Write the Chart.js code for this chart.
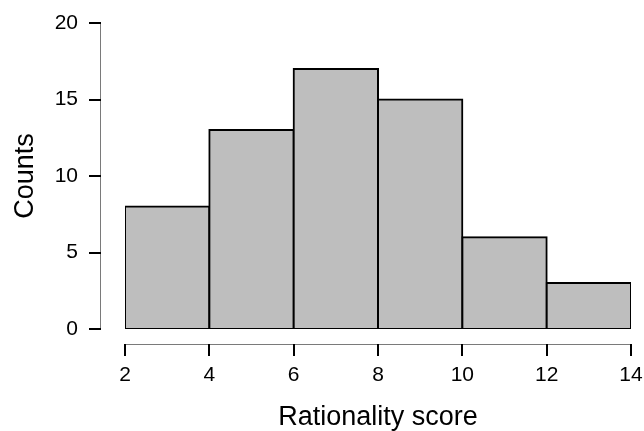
<!DOCTYPE html>
<html>
<head>
<meta charset="utf-8">
<script src="https://cdn.jsdelivr.net/npm/chart.js@4/dist/chart.umd.min.js"></script>
<style>
  html, body { margin: 0; padding: 0; background: #ffffff; }
  #wrap { width: 644px; height: 431px; }
</style>
</head>
<body>
<div id="wrap"><canvas id="c" width="644" height="431"></canvas></div>
<script>
// ---- data ----
const binEdges = [2, 4, 6, 8, 10, 12, 14];
const counts = [8, 13, 17, 15, 6, 3];
const xTickValues = [2, 4, 6, 8, 10, 12, 14];
const yTickValues = [0, 5, 10, 15, 20];
const xTitle = 'Rationality score';
const yTitle = 'Counts';

const points = counts.map((c, i) => ({ x: (binEdges[i] + binEdges[i + 1]) / 2, y: c }));

const FONT = '"Liberation Sans", Arial, Helvetica, sans-serif';

// R-style detached axes drawn from the chart's own scales
const detachedAxes = {
  id: 'detachedAxes',
  afterDraw(chart) {
    const ctx = chart.ctx;
    const xs = chart.scales.x, ys = chart.scales.y;
    const area = chart.chartArea;
    const axX = area.left - 25;
    const axY = area.bottom + 15;
    ctx.save();
    ctx.strokeStyle = '#7a7a7a';
    ctx.lineWidth = 1;
    ctx.beginPath();
    ctx.moveTo(axX + 0.5, ys.getPixelForValue(yTickValues[yTickValues.length - 1]));
    ctx.lineTo(axX + 0.5, ys.getPixelForValue(yTickValues[0]));
    ctx.stroke();
    ctx.beginPath();
    ctx.moveTo(xs.getPixelForValue(xTickValues[0]), axY + 0.5);
    ctx.lineTo(xs.getPixelForValue(xTickValues[xTickValues.length - 1]), axY + 0.5);
    ctx.stroke();
    ctx.strokeStyle = '#000000';
    ctx.lineWidth = 2;
    yTickValues.forEach(v => {
      const p = Math.round(ys.getPixelForValue(v));
      ctx.beginPath();
      ctx.moveTo(axX - 11, p);
      ctx.lineTo(axX + 1, p);
      ctx.stroke();
    });
    xTickValues.forEach(v => {
      const p = Math.round(xs.getPixelForValue(v));
      ctx.beginPath();
      ctx.moveTo(p, axY);
      ctx.lineTo(p, axY + 12);
      ctx.stroke();
    });
    ctx.restore();
  }
};

new Chart(document.getElementById('c'), {
  type: 'bar',
  data: {
    datasets: [{
      data: points,
      backgroundColor: '#bebebe',
      borderColor: '#000000',
      borderWidth: 2,
      borderSkipped: false,
      inflateAmount: 1,
      barPercentage: 1,
      categoryPercentage: 1,
      grouped: false
    }]
  },
  options: {
    responsive: false,
    animation: false,
    events: [],
    layout: { padding: { top: 23, right: 13, left: 0, bottom: 0 } },
    plugins: { legend: { display: false }, tooltip: { enabled: false } },
    scales: {
      x: {
        type: 'linear',
        min: binEdges[0],
        max: binEdges[binEdges.length - 1],
        offset: false,
        grid: { display: false, drawTicks: false },
        border: { display: false },
        afterBuildTicks: s => { s.ticks = xTickValues.map(v => ({ value: v })); },
        afterFit: s => { s.height = 102; s.paddingLeft = 0; s.paddingRight = 0; },
        ticks: {
          autoSkip: false,
          maxRotation: 0,
          padding: 34,
          color: '#000000',
          font: { family: FONT, size: 21 }
        },
        title: {
          display: true,
          text: xTitle,
          color: '#000000',
          font: { family: FONT, size: 27, lineHeight: 1 },
          padding: { top: 0, bottom: 0 }
        }
      },
      y: {
        type: 'linear',
        min: yTickValues[0],
        max: yTickValues[yTickValues.length - 1],
        grid: { display: false, drawTicks: false },
        border: { display: false },
        afterBuildTicks: s => { s.ticks = yTickValues.map(v => ({ value: v })); },
        afterFit: s => { s.width = 125; s.paddingTop = 0; s.paddingBottom = 0; },
        ticks: {
          padding: 47,
          color: '#000000',
          font: { family: FONT, size: 21 }
        },
        title: {
          display: true,
          text: yTitle,
          color: '#000000',
          font: { family: FONT, size: 27, lineHeight: 1 },
          padding: { top: 12, bottom: 0 }
        }
      }
    }
  },
  plugins: [detachedAxes]
});
</script>
</body>
</html>
